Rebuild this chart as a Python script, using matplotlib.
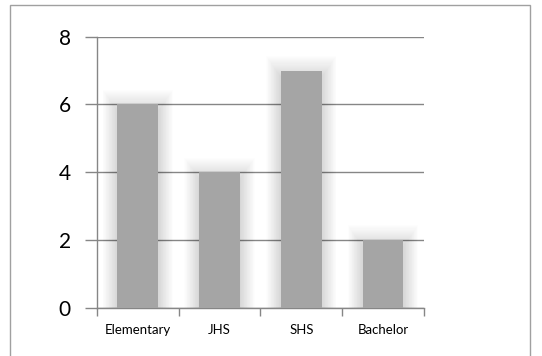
import numpy as np
import matplotlib
matplotlib.use("Agg")
import matplotlib.pyplot as plt
from matplotlib.patches import Rectangle

# Data
categories = ["Elementary", "JHS", "SHS", "Bachelor"]
values = [6, 4, 7, 2]
yticks = [0, 2, 4, 6, 8]

plt.rcParams['font.family'] = ['Lato', 'DejaVu Sans']

fig = plt.figure(figsize=(5.42, 3.56), dpi=100)
ax = fig.add_axes([0.179, 0.136, 0.603, 0.761])

axis_col = '#868686'
bar_col = '#a5a5a5'
x = np.arange(len(categories))

# soft glow behind bars (Excel style shadow)
n = 20
for k in range(n):
    grow = 0.18 * (k + 1) / n
    ax.bar(x, np.array(values) + grow * 3.5, width=0.5 + grow * 2,
           bottom=-0.2, color='#000000', alpha=0.008, zorder=1, linewidth=0)

ax.bar(x, values, width=0.5, color=bar_col, zorder=3, linewidth=0)

ax.set_xlim(-0.5, len(categories) - 0.5)
ax.set_ylim(0, 8)
ax.set_yticks(yticks)
ax.set_yticklabels([str(v) for v in yticks], fontsize=15)
ax.yaxis.grid(True, color=axis_col, linewidth=1)
ax.set_axisbelow(True)

ax.set_xticks(x)
ax.set_xticklabels(categories, fontsize=9.5)
ax.set_xticks(np.arange(len(categories) + 1) - 0.5, minor=True)
ax.tick_params(axis='x', which='major', length=0, pad=12)
ax.tick_params(axis='x', which='minor', length=6, color=axis_col, width=1)
ax.tick_params(axis='y', length=9, color=axis_col, width=1, pad=10)

for side in ['top', 'right']:
    ax.spines[side].set_visible(False)
for side in ['left', 'bottom']:
    ax.spines[side].set_color(axis_col)
    ax.spines[side].set_linewidth(1)

# chart border (bottom edge runs off the image)
fig.patches.append(Rectangle((10 / 542, -0.1), 520 / 542, 1.086,
                             transform=fig.transFigure, fill=False,
                             edgecolor='#a0a0a0', linewidth=1))

fig.savefig('out.png', dpi=100)
